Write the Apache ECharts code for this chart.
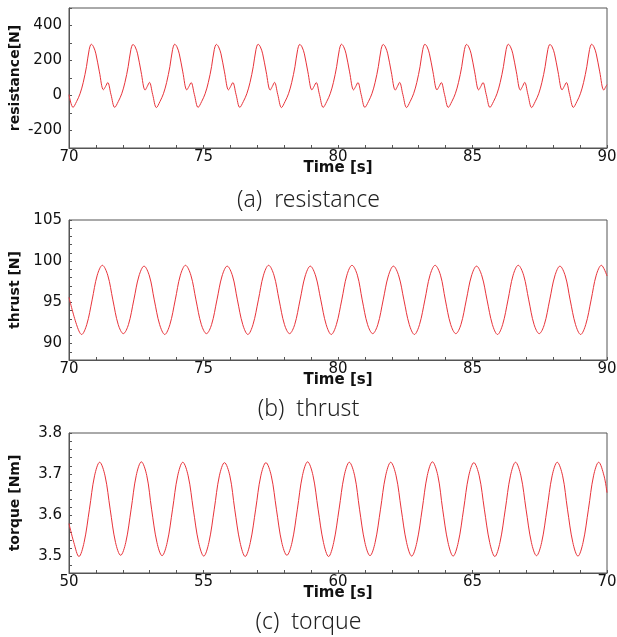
<!DOCTYPE html>
<html>
<head>
<meta charset="utf-8">
<script src="https://cdn.jsdelivr.net/npm/echarts@6/dist/echarts.min.js"></script>
<style>html,body{margin:0;padding:0;background:#fff;}#c{width:617px;height:637px;}</style>
</head>
<body>
<div id="c"></div>
<script>
// ---- data ----
const captions = ['(a)  resistance', '(b)  thrust', '(c)  torque'];
const yNames = ['resistance[N]', 'thrust [N]', 'torque [Nm]'];
const xName = 'Time [s]';
const xRanges = [[70, 90], [70, 90], [50, 70]];
const yRanges = [[-300, 500], [88, 105], [3.46, 3.8]];
const yLabelSteps = [200, 5, 0.1];

const resistanceData = [
[70.00,5],[70.15,-68],
[70.28,-35],[70.41,10],[70.53,75],[70.65,165],[70.75,262],[70.83,293],[70.91,279],[71.00,238],[71.13,135],[71.28,33],[71.36,52],[71.44,74],[71.56,6],[71.70,-68],
[71.83,-35],[71.96,10],[72.08,75],[72.20,165],[72.30,262],[72.38,292],[72.46,278],[72.55,238],[72.68,135],[72.83,31],[72.91,52],[72.99,75],[73.11,6],[73.25,-69],
[73.38,-35],[73.51,10],[73.63,75],[73.75,165],[73.85,262],[73.93,293],[74.01,279],[74.10,238],[74.23,135],[74.38,32],[74.46,52],[74.54,74],[74.66,6],[74.80,-68],
[74.93,-35],[75.06,10],[75.18,75],[75.30,165],[75.40,262],[75.48,292],[75.56,278],[75.65,238],[75.78,135],[75.93,32],[76.01,52],[76.09,74],[76.21,6],[76.35,-68],
[76.48,-35],[76.61,10],[76.73,75],[76.85,165],[76.95,262],[77.03,293],[77.11,279],[77.20,238],[77.33,135],[77.48,31],[77.56,52],[77.64,75],[77.76,6],[77.90,-69],
[78.03,-35],[78.16,10],[78.28,75],[78.40,165],[78.50,262],[78.58,292],[78.66,278],[78.75,238],[78.88,135],[79.03,32],[79.11,52],[79.19,74],[79.31,6],[79.45,-68],
[79.58,-35],[79.71,10],[79.83,75],[79.95,165],[80.05,262],[80.13,293],[80.21,279],[80.30,238],[80.43,135],[80.58,32],[80.66,52],[80.74,74],[80.86,6],[81.00,-68],
[81.13,-35],[81.26,10],[81.38,75],[81.50,165],[81.60,262],[81.68,292],[81.76,278],[81.85,238],[81.98,135],[82.13,31],[82.21,52],[82.29,75],[82.41,6],[82.55,-69],
[82.68,-35],[82.81,10],[82.93,75],[83.05,165],[83.15,262],[83.23,293],[83.31,279],[83.40,238],[83.53,135],[83.68,32],[83.76,52],[83.84,74],[83.96,6],[84.10,-68],
[84.23,-35],[84.36,10],[84.48,75],[84.60,165],[84.70,262],[84.78,292],[84.86,278],[84.95,238],[85.08,135],[85.23,32],[85.31,52],[85.39,74],[85.51,6],[85.65,-68],
[85.78,-35],[85.91,10],[86.03,75],[86.15,165],[86.25,262],[86.33,293],[86.41,279],[86.50,238],[86.63,135],[86.78,31],[86.86,52],[86.94,75],[87.06,6],[87.20,-69],
[87.33,-35],[87.46,10],[87.58,75],[87.70,165],[87.80,262],[87.88,292],[87.96,278],[88.05,238],[88.18,135],[88.33,32],[88.41,52],[88.49,74],[88.61,6],[88.75,-68],
[88.88,-35],[89.01,10],[89.13,75],[89.25,165],[89.35,262],[89.43,293],[89.51,279],[89.60,238],[89.73,135],[89.88,31],[89.96,52],[90.00,62]
];

const thrustData = [
[70.00,95.6],[70.28,92.3],[70.47,91.1],[70.66,92.3],[70.86,95.3],[71.05,98.3],[71.24,99.5],[71.44,98.3],
[71.63,95.3],[71.83,92.3],[72.02,91.2],[72.21,92.3],[72.41,95.3],[72.60,98.2],[72.79,99.4],[72.99,98.2],
[73.17,95.3],[73.37,92.3],[73.56,91.1],[73.75,92.3],[73.95,95.3],[74.14,98.3],[74.33,99.5],[74.53,98.3],
[74.72,95.3],[74.92,92.3],[75.11,91.2],[75.30,92.3],[75.50,95.3],[75.69,98.2],[75.88,99.4],[76.08,98.2],
[76.26,95.3],[76.46,92.3],[76.65,91.1],[76.84,92.3],[77.04,95.3],[77.23,98.3],[77.42,99.5],[77.62,98.3],
[77.81,95.3],[78.01,92.3],[78.20,91.2],[78.39,92.3],[78.59,95.3],[78.78,98.2],[78.97,99.4],[79.17,98.2],
[79.36,95.3],[79.56,92.3],[79.75,91.1],[79.94,92.3],[80.14,95.3],[80.33,98.3],[80.52,99.5],[80.72,98.3],
[80.90,95.3],[81.10,92.3],[81.29,91.2],[81.48,92.3],[81.68,95.3],[81.87,98.2],[82.06,99.4],[82.26,98.2],
[82.45,95.3],[82.65,92.3],[82.84,91.1],[83.03,92.3],[83.23,95.3],[83.42,98.3],[83.61,99.5],[83.81,98.3],
[83.99,95.3],[84.19,92.3],[84.38,91.2],[84.57,92.3],[84.77,95.3],[84.96,98.2],[85.15,99.4],[85.35,98.2],
[85.54,95.3],[85.74,92.3],[85.93,91.1],[86.12,92.3],[86.32,95.3],[86.51,98.3],[86.70,99.5],[86.90,98.3],
[87.09,95.3],[87.29,92.3],[87.48,91.2],[87.67,92.3],[87.87,95.3],[88.06,98.2],[88.25,99.4],[88.45,98.2],
[88.63,95.3],[88.83,92.3],[89.02,91.1],[89.21,92.3],[89.41,95.3],[89.60,98.3],[89.79,99.5],[90.00,98.2]
];

const torqueData = [
[50.00,3.580],[50.18,3.534],[50.37,3.500],[50.56,3.534],[50.76,3.615],[50.95,3.696],[51.14,3.729],[51.34,3.696],
[51.53,3.615],[51.73,3.534],[51.92,3.503],[52.11,3.534],[52.31,3.615],[52.50,3.697],[52.69,3.730],[52.89,3.697],
[53.07,3.615],[53.27,3.534],[53.46,3.502],[53.65,3.534],[53.85,3.615],[54.04,3.696],[54.23,3.729],[54.43,3.696],
[54.62,3.615],[54.82,3.534],[55.01,3.501],[55.20,3.534],[55.40,3.615],[55.59,3.696],[55.78,3.728],[55.98,3.696],
[56.16,3.615],[56.36,3.534],[56.55,3.500],[56.74,3.534],[56.94,3.615],[57.13,3.696],[57.32,3.728],[57.52,3.696],
[57.71,3.615],[57.91,3.534],[58.10,3.503],[58.29,3.534],[58.49,3.615],[58.68,3.697],[58.87,3.730],[59.07,3.697],
[59.26,3.615],[59.46,3.534],[59.65,3.500],[59.84,3.534],[60.04,3.615],[60.23,3.696],[60.42,3.729],[60.62,3.696],
[60.80,3.615],[61.00,3.534],[61.19,3.502],[61.38,3.534],[61.58,3.615],[61.77,3.696],[61.96,3.729],[62.16,3.696],
[62.35,3.615],[62.55,3.534],[62.74,3.501],[62.93,3.534],[63.13,3.615],[63.32,3.697],[63.51,3.730],[63.71,3.697],
[63.89,3.615],[64.09,3.534],[64.28,3.501],[64.47,3.534],[64.67,3.615],[64.86,3.696],[65.05,3.728],[65.25,3.696],
[65.44,3.615],[65.64,3.534],[65.83,3.500],[66.02,3.534],[66.22,3.615],[66.41,3.696],[66.60,3.729],[66.80,3.696],
[66.99,3.615],[67.19,3.534],[67.38,3.502],[67.57,3.534],[67.77,3.615],[67.96,3.696],[68.15,3.729],[68.35,3.696],
[68.53,3.615],[68.73,3.534],[68.92,3.501],[69.11,3.534],[69.31,3.615],[69.50,3.696],[69.69,3.729],[69.89,3.696],[70.00,3.655]
];
const seriesData = [resistanceData, thrustData, torqueData];
const yIntervals = [100, 1, 0.02];

// ---- chart ----
const tops = [8, 220, 433];
const plotH = 140;
const captionY = [202, 411, 624];
const axisColor = '#555';
const textColor = '#111';
const font = 'DejaVu Sans';

function isMult(v, step) {
  const r = v / step;
  return Math.abs(r - Math.round(r)) < 1e-6;
}

const grids = [], xAxes = [], yAxes = [], series = [], graphics = [];
for (let i = 0; i < 3; i++) {
  grids.push({left: 69, right: 10, top: tops[i], height: plotH, show: true,
    borderColor: axisColor, borderWidth: 1, containLabel: false, outerBoundsMode: 'none'});
  xAxes.push({
    type: 'value', gridIndex: i, min: xRanges[i][0], max: xRanges[i][1], interval: 1,
    axisLine: {show: true, onZero: false, lineStyle: {color: axisColor, width: 1}},
    axisTick: {show: true, inside: true, length: 3, lineStyle: {color: axisColor}},
    splitLine: {show: false},
    axisLabel: {margin: 2, fontSize: 15, fontFamily: font, color: textColor,
      formatter: v => (isMult(v, 5) ? String(Math.round(v)) : '')},
    name: xName, nameLocation: 'middle', nameGap: 13, nameMoveOverlap: false,
    nameTextStyle: {fontSize: 15, fontWeight: 'bold', fontFamily: font, color: textColor}
  });
  const step = yLabelSteps[i];
  yAxes.push({
    type: 'value', gridIndex: i, min: yRanges[i][0], max: yRanges[i][1], interval: yIntervals[i],
    axisLine: {show: true, onZero: false, lineStyle: {color: axisColor, width: 1}},
    axisTick: {show: true, inside: true, length: 3, lineStyle: {color: axisColor}},
    splitLine: {show: false},
    axisLabel: {margin: 7, fontSize: 15, fontFamily: font, color: textColor, showMinLabel: true, showMaxLabel: true,
      formatter: v => {
        if (!isMult(v, step)) return '';
        return step < 1 ? v.toFixed(1) : String(Math.round(v));
      }},
    name: yNames[i], nameLocation: 'middle', nameGap: 47, nameRotate: 90, nameMoveOverlap: false,
    nameTextStyle: {fontSize: 14, fontWeight: 'bold', fontFamily: font, color: textColor}
  });
  series.push({
    type: 'line', xAxisIndex: i, yAxisIndex: i, data: seriesData[i],
    showSymbol: false, smooth: 0.35, lineStyle: {color: '#e8333a', width: 1}, animation: false
  });
  graphics.push({type: 'text', left: 'center', top: captionY[i] - 13,
    style: {text: captions[i], fontSize: 23, fontFamily: 'Noto Sans', fontWeight: 300, fill: '#222'}});
}

const chart = echarts.init(document.getElementById('c'), null, {renderer: 'canvas'});
chart.setOption({
  animation: false,
  backgroundColor: '#fff',
  grid: grids, xAxis: xAxes, yAxis: yAxes, series: series, graphic: graphics
});
</script>
</body>
</html>
